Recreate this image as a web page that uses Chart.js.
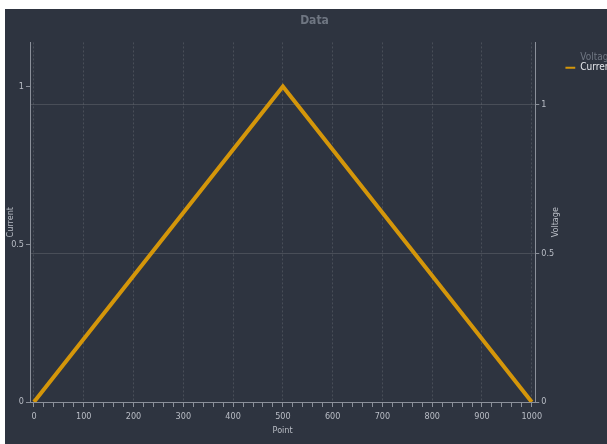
<!DOCTYPE html>
<html>
<head>
<meta charset="utf-8">
<script src="https://cdn.jsdelivr.net/npm/chart.js@4"></script>
<style>
html, body { margin: 0; background: #fff; overflow: hidden; }
#wrap { position: absolute; left: 5px; top: 9px; width: 619px; height: 435px; background: #2e3440; }
</style>
</head>
<body>
<div id="wrap"><canvas id="chart"></canvas></div>
<script>
// data
const pointX = [0, 500, 1000]
const currentValues = [0, 1, 0]
const voltageValues = []
const seriesNames = ['Voltage', 'Current']
const yTicks = [0, 0.5, 1]

const lineColor = '#d4960a'
const axisColor = '#8b909a'
const gridColor = 'rgba(255, 255, 255, 0.13)'
const labelColor = '#b9bdc5'
const fontFamily = "'DejaVu Sans Condensed', 'DejaVu Sans', sans-serif"

// right axis title drawn reading upwards, like the left one
const rightTitle = {
  id: 'rightTitle',
  afterDraw: chart => {
    const s = chart.scales.y1
    const c = chart.ctx
    c.save()
    c.translate(s.right - 10, (s.top + s.bottom) / 2)
    c.rotate(-Math.PI / 2)
    c.fillStyle = labelColor
    c.font = '9px ' + fontFamily
    c.textAlign = 'center'
    c.textBaseline = 'middle'
    c.fillText('Voltage', 0, 0)
    c.restore()
  }
}

var ctx = document.getElementById('chart').getContext('2d')

var chart = new Chart(ctx, {
  type: 'line',
  data: {
    datasets: [{
      label: seriesNames[0],
      data: voltageValues,
      yAxisID: 'y1',
      borderColor: '#888',
      hidden: true
    }, {
      label: seriesNames[1],
      data: pointX.map((x, i) => ({ x: x, y: currentValues[i] })),
      yAxisID: 'y',
      borderColor: lineColor,
      backgroundColor: lineColor,
      borderWidth: 4,
      pointRadius: 0,
      tension: 0
    }]
  },
  options: {
    responsive: true,
    maintainAspectRatio: false,
    animation: false,
    layout: { padding: { left: 0, right: 0, top: 0, bottom: 8 } },
    plugins: {
      title: {
        display: true,
        text: 'Data',
        color: '#6f7682',
        font: { family: fontFamily, size: 12, weight: 'bold' },
        padding: { top: 5, bottom: 14 }
      },
      legend: {
        position: 'right',
        align: 'start',
        fullSize: false,
        onClick: null,
        title: { display: true, text: ' ', font: { size: 2 }, padding: { top: 8, bottom: 0 } },
        labels: {
          font: { family: fontFamily, size: 10 },
          color: '#e6e8ec',
          boxWidth: 10,
          boxHeight: 2,
          padding: 0,
          generateLabels: chart => chart.data.datasets.map((ds, i) => ({
            text: ds.label,
            fontColor: ds.hidden ? '#6f7682' : '#e6e8ec',
            fillStyle: ds.hidden ? 'transparent' : lineColor,
            strokeStyle: ds.hidden ? 'transparent' : lineColor,
            lineWidth: 0,
            hidden: false,
            datasetIndex: i
          }))
        }
      },
      tooltip: { enabled: false }
    },
    scales: {
      x: {
        type: 'linear',
        min: -8,
        max: 1007,
        title: { display: true, text: 'Point', color: labelColor, font: { family: fontFamily, size: 9 }, padding: 0 },
        ticks: {
          stepSize: 20,
          includeBounds: false,
          autoSkip: false,
          maxRotation: 0,
          color: labelColor,
          font: { family: fontFamily, size: 9 },
          padding: 4,
          callback: v => (v % 100 === 0 ? String(v) : '')
        },
        grid: {
          color: c => (c.tick && c.tick.value % 100 === 0 ? gridColor : 'transparent'),
          tickColor: axisColor,
          tickLength: 5
        },
        border: { color: axisColor, dash: [2, 2] },
        afterFit: s => { s.height = 34 }
      },
      y: {
        position: 'left',
        min: 0,
        max: 1.14,
        title: { display: true, text: 'Current', color: labelColor, font: { family: fontFamily, size: 9 }, padding: 0 },
        ticks: {
          color: labelColor,
          font: { family: fontFamily, size: 9 },
          padding: 2,
          callback: v => String(v)
        },
        afterBuildTicks: s => { s.ticks = yTicks.map(v => ({ value: v })) },
        grid: { drawOnChartArea: false, tickColor: axisColor, tickLength: 4 },
        border: { color: axisColor },
        afterFit: s => { s.width = 25 }
      },
      y1: {
        position: 'right',
        min: 0,
        max: 1.21,
        display: true,
        title: { display: false },
        ticks: {
          color: labelColor,
          font: { family: fontFamily, size: 9 },
          padding: 2,
          callback: v => String(v)
        },
        afterBuildTicks: s => { s.ticks = yTicks.map(v => ({ value: v })) },
        grid: { color: gridColor, tickColor: axisColor, tickLength: 4 },
        border: { color: axisColor },
        afterFit: s => { s.width = 30 }
      }
    }
  },
  plugins: [rightTitle]
})
</script>
</body>
</html>
